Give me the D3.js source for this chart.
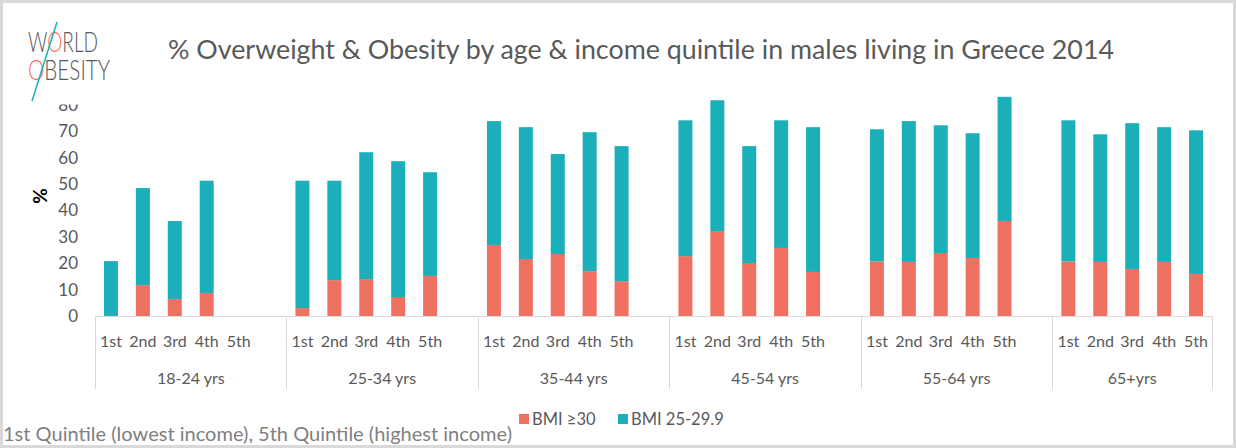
<!DOCTYPE html>
<html>
<head>
    <title>Overweight and obesity, males, Greece 2014</title>
    <script src="https://cdnjs.cloudflare.com/ajax/libs/d3/7.8.5/d3.min.js"></script>
    <style>
        body { margin: 0; background: #fff; }
        text { font-family: Lato, 'Open Sans', sans-serif; }
    </style>
</head>
<body>
<div id="chart"></div>
<script>
// ---------------- data ----------------
var ageGroups = ["18-24 yrs", "25-34 yrs", "35-44 yrs", "45-54 yrs", "55-64 yrs", "65+yrs"];
var quintiles = ["1st", "2nd", "3rd", "4th", "5th"];
// BMI >= 30, by age group then quintile (null = no bar)
var obese = [
    [0, 11.7, 6.4, 8.7, null],
    [3.0, 13.6, 14.0, 7.2, 15.2],
    [26.9, 21.6, 23.5, 17.0, 13.2],
    [22.7, 32.2, 20.1, 25.8, 16.7],
    [20.7, 20.5, 23.9, 22.0, 36.0],
    [20.7, 20.5, 17.8, 20.5, 15.9]
];
// BMI 25-29.9
var overweight = [
    [20.8, 36.8, 29.6, 42.6, null],
    [48.3, 37.7, 48.1, 51.5, 39.3],
    [47.0, 50.0, 37.9, 52.7, 51.2],
    [51.5, 49.6, 44.3, 48.4, 54.9],
    [50.1, 53.4, 48.4, 47.3, 47.1],
    [53.5, 48.4, 55.3, 51.1, 54.5]
];
var yTicks = [0, 10, 20, 30, 40, 50, 60, 70, 80];
var seriesNames = ["BMI \u226530", "BMI 25-29.9"];
var colors = ["#F07062", "#1BAFB9"];

// ---------------- svg ----------------
var W = 1236, H = 448;
var svg = d3.select("#chart").append("svg")
    .attr("width", W).attr("height", H);

svg.append("rect").attr("x", 1.5).attr("y", 1.5)
    .attr("width", W - 3).attr("height", H - 3)
    .attr("fill", "#fff").attr("stroke", "#D9D9D9").attr("stroke-width", 3);

// slots: 6 per group (last one blank), last group has only 5
var nSlots = ageGroups.length * 6 - 1;
var x = d3.scaleLinear().domain([0, nSlots]).range([95, 1212]);
var y = d3.scaleLinear().domain([0, 80]).range([316, 105]);
var barW = 14;

var rows = [];
ageGroups.forEach(function (g, gi) {
    quintiles.forEach(function (q, qi) {
        rows.push({ g: gi, q: qi, slot: gi * 6 + qi, ob: obese[gi][qi], ow: overweight[gi][qi] });
    });
});

// ---------------- y axis ----------------
// top label is cut off by the plot area in the original
svg.append("clipPath").attr("id", "yclip")
    .append("rect").attr("x", -90).attr("y", 104.5).attr("width", 90).attr("height", 240);

var yAxis = svg.append("g")
    .attr("transform", "translate(85,0)")
    .attr("clip-path", "url(#yclip)")
    .call(d3.axisLeft(y).tickValues(yTicks).tickSize(0).tickPadding(7));
yAxis.select(".domain").remove();
yAxis.selectAll("text")
    .attr("fill", "#595959")
    .style("font-size", "17px")
    .style("font-family", "Lato, sans-serif");

svg.append("text")
    .attr("transform", "translate(47,196) rotate(-90)")
    .attr("text-anchor", "middle")
    .style("font-size", "19px").style("font-weight", "bold")
    .attr("fill", "#000")
    .text("%");

// ---------------- bars ----------------
var bars = svg.append("g");
bars.selectAll("rect.ob")
    .data(rows.filter(function (d) { return d.ob != null; }))
    .enter().append("rect")
    .attr("class", "ob")
    .attr("x", function (d) { return x(d.slot + 0.5) - barW / 2; })
    .attr("width", barW)
    .attr("y", function (d) { return y(d.ob); })
    .attr("height", function (d) { return y(0) - y(d.ob); })
    .attr("fill", colors[0]);

bars.selectAll("rect.ow")
    .data(rows.filter(function (d) { return d.ow != null; }))
    .enter().append("rect")
    .attr("class", "ow")
    .attr("x", function (d) { return x(d.slot + 0.5) - barW / 2; })
    .attr("width", barW)
    .attr("y", function (d) { return y(d.ob + d.ow); })
    .attr("height", function (d) { return y(d.ob) - y(d.ob + d.ow); })
    .attr("fill", colors[1]);

// ---------------- category axis ----------------
var axisCol = "#D9D9D9";
svg.append("line")
    .attr("x1", x(0)).attr("x2", x(nSlots))
    .attr("y1", 316.5).attr("y2", 316.5)
    .attr("stroke", axisCol);

var seps = ageGroups.map(function (g, i) { return i * 6; }).concat([nSlots]);
svg.selectAll("line.sep").data(seps).enter().append("line")
    .attr("class", "sep")
    .attr("x1", function (d) { return Math.round(x(d)) + 0.5; })
    .attr("x2", function (d) { return Math.round(x(d)) + 0.5; })
    .attr("y1", 316).attr("y2", 389)
    .attr("stroke", axisCol);

svg.selectAll("text.q").data(rows).enter().append("text")
    .attr("class", "q")
    .attr("x", function (d) { return x(d.slot + 0.5); })
    .attr("y", 347)
    .attr("text-anchor", "middle")
    .attr("fill", "#595959")
    .style("font-size", "16px")
    .text(function (d) { return quintiles[d.q]; });

svg.selectAll("text.grp").data(ageGroups).enter().append("text")
    .attr("class", "grp")
    .attr("x", function (d, i) { return (x(seps[i]) + x(seps[i + 1])) / 2; })
    .attr("y", 384)
    .attr("text-anchor", "middle")
    .attr("fill", "#595959")
    .style("font-size", "16px")
    .text(function (d) { return d; });

// ---------------- legend ----------------
var legX = [519, 618];
var leg = svg.selectAll("g.leg").data(seriesNames).enter().append("g")
    .attr("class", "leg")
    .attr("transform", function (d, i) { return "translate(" + legX[i] + ",414)"; });
leg.append("rect").attr("width", 10).attr("height", 10)
    .attr("fill", function (d, i) { return colors[i]; });
leg.append("text").attr("x", 13).attr("y", 11)
    .attr("fill", "#595959").style("font-size", "16.5px")
    .text(function (d) { return d; });

// ---------------- title, note, logo ----------------
svg.append("text")
    .attr("x", 641).attr("y", 59)
    .attr("text-anchor", "middle")
    .attr("textLength", 946).attr("lengthAdjust", "spacingAndGlyphs")
    .attr("fill", "#595959")
    .style("font-size", "26.5px")
    .text("% Overweight & Obesity by age & income quintile in males living in Greece 2014");

svg.append("text")
    .attr("x", 3).attr("y", 441)
    .attr("textLength", 509).attr("lengthAdjust", "spacingAndGlyphs")
    .attr("fill", "#7F7F7F")
    .style("font-size", "19.5px")
    .text("1st Quintile (lowest income), 5th Quintile (highest income)");

var logo = svg.append("g").style("font-family", "Roboto, sans-serif").style("font-weight", 300);
var l1 = logo.append("text").attr("x", 28).attr("y", 52)
    .attr("textLength", 70).attr("lengthAdjust", "spacingAndGlyphs")
    .attr("fill", "#595959").style("font-size", "28px");
l1.append("tspan").text("W");
l1.append("tspan").attr("fill", "#F07062").text("O");
l1.append("tspan").text("RLD");
var l2 = logo.append("text").attr("x", 28).attr("y", 80)
    .attr("textLength", 82).attr("lengthAdjust", "spacingAndGlyphs")
    .attr("fill", "#595959").style("font-size", "28px");
l2.append("tspan").attr("fill", "#F07062").text("O");
l2.append("tspan").text("BESITY");
logo.append("line")
    .attr("x1", 57).attr("y1", 22).attr("x2", 32).attr("y2", 101)
    .attr("stroke", "#1BAFB9").attr("stroke-width", 1.5);
</script>
</body>
</html>
